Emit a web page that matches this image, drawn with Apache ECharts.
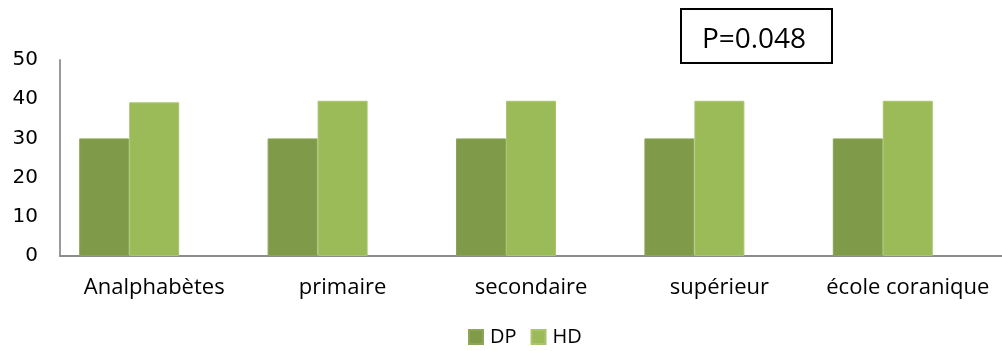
<!DOCTYPE html>
<html>
<head>
<meta charset="utf-8">
<script src="https://cdn.jsdelivr.net/npm/echarts@6/dist/echarts.min.js"></script>
<style>
  html, body { margin: 0; padding: 0; background: #fff; }
  #chart { width: 1002px; height: 351px; }
</style>
</head>
<body>
<div id="chart"></div>
<script>
// Niveau d'instruction : DP vs HD
const categories = ['Analphabètes', 'primaire', 'secondaire', 'supérieur', 'école coranique'];
const dpValues = [30, 30, 30, 30, 30];
const hdValues = [39.2, 39.6, 39.6, 39.6, 39.6];
const yTicks = [0, 10, 20, 30, 40, 50];
const pValueText = 'P=0.048';

const font = '"Open Sans", "DejaVu Sans", sans-serif';
const digitFont = '"DejaVu Sans", sans-serif';

const chart = echarts.init(document.getElementById('chart'));
chart.setOption({
  animation: false,
  textStyle: { fontFamily: font },
  grid: { left: 60, right: 0, top: 60, bottom: 95, containLabel: false },
  legend: {
    data: ['DP', 'HD'],
    top: 322,
    left: 463,
    itemWidth: 14,
    itemHeight: 14,
    itemGap: 14,
    icon: 'rect',
    textStyle: { fontSize: 20, color: '#000', fontFamily: font, padding: [0, 0, 0, 2] }
  },
  xAxis: {
    type: 'category',
    data: categories,
    axisLine: { lineStyle: { color: '#8c8c8c', width: 2 } },
    axisTick: { show: false },
    axisLabel: { fontSize: 22, color: '#000', margin: 21, fontFamily: font, interval: 0 }
  },
  yAxis: {
    type: 'value',
    min: yTicks[0],
    max: yTicks[yTicks.length - 1],
    interval: 10,
    splitLine: { show: false },
    axisLine: { show: true, lineStyle: { color: '#9a9a9a', width: 2 } },
    axisTick: { show: false },
    axisLabel: { fontSize: 20, color: '#000', margin: 22, fontFamily: digitFont }
  },
  series: [
    {
      name: 'DP', type: 'bar', data: dpValues, barWidth: 50, barGap: '0%',
      itemStyle: { color: '#7f9a48', borderColor: '#8aa656', borderWidth: 1 }
    },
    {
      name: 'HD', type: 'bar', data: hdValues, barWidth: 50, barGap: '0%',
      itemStyle: { color: '#9bbb59', borderColor: '#a9c56f', borderWidth: 1 }
    },
    {
      // empty third slot keeps the pair shifted left within each category
      name: '', type: 'bar', data: categories.map(() => null), barWidth: 50, barGap: '0%'
    }
  ],
  graphic: [
    {
      type: 'group',
      left: 680,
      top: 8,
      children: [
        {
          type: 'rect',
          shape: { x: 0, y: 0, width: 151, height: 54 },
          style: { fill: '#fff', stroke: '#000', lineWidth: 2 }
        },
        {
          type: 'text',
          x: 73, y: 31,
          style: {
            text: pValueText, fill: '#000', fontSize: 28, fontFamily: font,
            align: 'center', verticalAlign: 'middle'
          }
        }
      ]
    }
  ]
});
</script>
</body>
</html>
